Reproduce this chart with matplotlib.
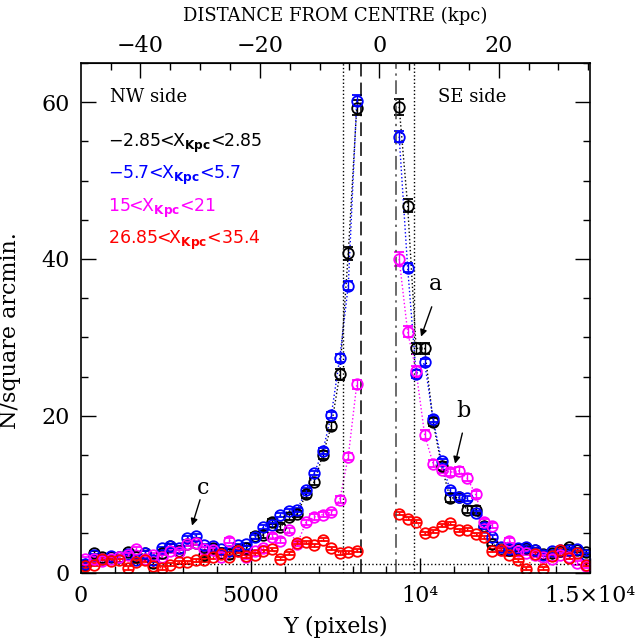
import numpy as np
import matplotlib
matplotlib.use('Agg')
import matplotlib.pyplot as plt
from matplotlib.ticker import MultipleLocator, FixedLocator, FuncFormatter

# bin centres along Y (pixels): NW side, then SE side of the central gap
y_nw = np.arange(125, 8126, 250)
y_se = np.arange(9375, 14876, 250)

# -2.85 < X < 2.85 kpc
black_nw = [1.0, 2.5, 2.0, 2.0, 2.0, 2.6, 2.0, 2.5, 1.2, 2.5, 3.4, 2.7, 3.7, 3.8, 2.3, 3.1, 2.5,
            2.4, 2.9, 3.1, 4.7, 4.8, 6.5, 5.8, 7.1, 7.5, 10.0, 11.6, 15.0, 18.7, 25.3, 40.7, 59.3]
black_nw_err = [0.25, 0.25, 0.25, 0.25, 0.25, 0.25, 0.25, 0.25, 0.25, 0.25, 0.25, 0.25, 0.25, 0.25,
                0.25, 0.25, 0.25, 0.25, 0.25, 0.25, 0.35, 0.35, 0.35, 0.35, 0.35, 0.35, 0.45, 0.45,
                0.55, 0.55, 0.7, 0.85, 1.0]
black_se = [59.4, 46.8, 28.6, 28.6, 19.2, 13.6, 9.5, 9.6, 8.0, 8.0, 5.9, 3.7, 3.0, 2.9, 3.0, 3.2,
            2.9, 2.4, 2.5, 2.7, 3.3, 2.9, 2.6]
black_se_err = [1.0, 0.85, 0.7, 0.7, 0.55, 0.45, 0.45, 0.45, 0.45, 0.45, 0.35, 0.25, 0.25, 0.25,
                0.25, 0.25, 0.25, 0.25, 0.25, 0.25, 0.25, 0.25, 0.25]

# -5.7 < X < 5.7 kpc
blue_nw = [1.1, 2.2, 1.8, 2.1, 2.0, 2.4, 1.6, 2.5, 1.6, 3.1, 3.4, 3.2, 4.4, 4.7, 3.5, 3.4, 3.0,
           2.8, 3.5, 3.6, 4.6, 5.8, 6.1, 7.3, 7.9, 8.0, 10.5, 12.7, 15.5, 20.1, 27.4, 36.6, 60.2]
blue_nw_err = [0.2, 0.2, 0.2, 0.2, 0.2, 0.2, 0.2, 0.2, 0.2, 0.2, 0.2, 0.2, 0.25, 0.25, 0.2, 0.2,
               0.2, 0.2, 0.2, 0.2, 0.25, 0.25, 0.25, 0.25, 0.25, 0.3, 0.3, 0.3, 0.4, 0.4, 0.5,
               0.6, 0.7]
blue_se = [55.6, 38.9, 25.3, 26.8, 19.6, 14.2, 10.5, 9.6, 9.5, 7.6, 5.8, 4.6, 3.3, 3.0, 3.1, 3.3,
           2.9, 2.3, 2.7, 2.9, 2.9, 3.0, 2.3]
blue_se_err = [0.7, 0.6, 0.5, 0.5, 0.4, 0.3, 0.3, 0.3, 0.3, 0.25, 0.25, 0.25, 0.2, 0.2, 0.2, 0.2,
               0.2, 0.2, 0.2, 0.2, 0.2, 0.2, 0.2]

# 15 < X < 21 kpc
pink_nw = [1.7, 1.7, 1.5, 1.7, 2.0, 2.2, 3.0, 1.7, 2.3, 2.0, 2.7, 2.6, 3.7, 3.8, 3.0, 2.9, 2.0,
           4.1, 2.8, 2.0, 2.7, 3.2, 4.6, 4.1, 5.4, 3.7, 6.4, 7.1, 7.4, 7.7, 9.3, 14.8, 24.0]
pink_nw_err = [0.25, 0.25, 0.25, 0.25, 0.25, 0.25, 0.25, 0.25, 0.25, 0.25, 0.25, 0.25, 0.25, 0.25,
               0.25, 0.25, 0.25, 0.35, 0.25, 0.25, 0.25, 0.25, 0.35, 0.35, 0.35, 0.25, 0.35, 0.35,
               0.35, 0.35, 0.45, 0.45, 0.55]
pink_se = [40.0, 30.7, 25.7, 17.6, 13.9, 13.1, 12.8, 13.0, 12.1, 10.0, 6.5, 6.0, 2.9, 4.1, 2.8,
           2.5, 2.2, 2.0, 1.8, 2.3, 2.0, 1.2, 0.8]
pink_se_err = [0.85, 0.7, 0.7, 0.55, 0.45, 0.45, 0.45, 0.45, 0.45, 0.45, 0.35, 0.35, 0.25, 0.35,
               0.25, 0.25, 0.25, 0.25, 0.25, 0.25, 0.25, 0.25, 0.25]

# 26.85 < X < 35.4 kpc
red_nw = [0.8, 1.0, 1.8, 1.5, 1.6, 0.6, 1.4, 1.6, 0.8, 0.6, 1.0, 1.3, 1.3, 1.6, 1.6, 2.0, 2.4,
          2.0, 2.7, 2.1, 2.3, 2.7, 3.0, 1.8, 2.4, 3.8, 3.9, 3.5, 4.2, 3.1, 2.5, 2.6, 2.8]
red_se = [7.5, 6.9, 6.5, 5.0, 5.2, 6.0, 6.3, 5.4, 5.5, 4.9, 4.5, 2.8, 2.9, 2.3, 1.6, 0.5, 2.4,
          0.5, 2.1, 2.9, 1.9, 2.5, 1.0]
red_err = 0.2

labels = ['\u22122.85<X$_{\\mathbf{Kpc}}$<2.85', '\u22125.7<X$_{\\mathbf{Kpc}}$<5.7',
          '15<X$_{\\mathbf{Kpc}}$<21', '26.85<X$_{\\mathbf{Kpc}}$<35.4']
colors = ['black', '#0000ff', '#ff00ff', '#ff0000']

kpc_ticks = [-40, -20, 0, 20]
centre = 8790.0      # pixel position of the galaxy centre
pix_per_kpc = 176.0
background = 1.15

serif = 'DejaVu Serif'

fig = plt.figure(figsize=(6.35, 6.42), dpi=100)
ax = fig.add_axes([0.1276, 0.108, 0.8016, 0.794])


def draw(x, v, e, col):
    ax.plot(x, v, ls=':', color=col, lw=1.0)
    ax.errorbar(x, v, yerr=e, fmt='o', ms=7.6, mfc='none', mec=col, mew=1.3,
                ecolor=col, elinewidth=1.0, capsize=3.3, capthick=1.0)


sets = [(black_nw, black_nw_err, black_se, black_se_err),
        (blue_nw, blue_nw_err, blue_se, blue_se_err),
        (pink_nw, pink_nw_err, pink_se, pink_se_err),
        (red_nw, red_err, red_se, red_err)]
for (vn, en, vs, es), col in zip(sets, colors):
    draw(y_nw, vn, en, col)
    draw(y_se, vs, es, col)

# strip limits
ax.axvline(7730, color='k', ls=':', lw=1.0)
ax.axvline(9800, color='k', ls=':', lw=1.0)
ax.axvline(8260, color='k', ls=(0, (9, 4)), lw=1.1)
ax.axvline(9270, color='#444444', ls=(0, (9, 3, 1.5, 3)), lw=1.1)
ax.axhline(background, color='k', ls=':', lw=1.0)

ax.set_xlim(0, 15000)
ax.set_ylim(0, 65)


def xfmt(v, pos):
    if v == 0:
        return '0'
    if v == 5000:
        return '5000'
    if v == 10000:
        return '10\u2074'
    if v == 15000:
        return '1.5\u00d710\u2074'
    return ''


ax.xaxis.set_major_locator(MultipleLocator(5000))
ax.xaxis.set_minor_locator(MultipleLocator(1000))
ax.xaxis.set_major_formatter(FuncFormatter(xfmt))
ax.yaxis.set_major_locator(MultipleLocator(20))
ax.yaxis.set_minor_locator(MultipleLocator(5))
ax.tick_params(which='both', direction='in', top=False, right=True, width=1.0)
ax.tick_params(which='major', length=11)
ax.tick_params(which='minor', length=5)
ax.tick_params(axis='x', pad=9)
ax.tick_params(axis='y', pad=8)
for lab in ax.get_xticklabels() + ax.get_yticklabels():
    lab.set_fontfamily(serif)
    lab.set_fontsize(16)
for s in ax.spines.values():
    s.set_linewidth(1.2)

top = ax.secondary_xaxis('top', functions=(lambda x: (x - centre) / pix_per_kpc,
                                           lambda k: k * pix_per_kpc + centre))
top.xaxis.set_major_locator(FixedLocator(kpc_ticks))
top.xaxis.set_minor_locator(MultipleLocator(5))
top.tick_params(which='both', direction='in', width=1.0, pad=4)
top.tick_params(which='major', length=11)
top.tick_params(which='minor', length=5)
for lab in top.get_xticklabels():
    lab.set_fontfamily(serif)
    lab.set_fontsize(16)
top.set_xlabel('DISTANCE FROM CENTRE (kpc)', fontfamily=serif, fontsize=13, labelpad=10)

ax.set_xlabel('Y (pixels)', fontfamily=serif, fontsize=16, labelpad=6)
ax.set_ylabel('N/square arcmin.', fontfamily=serif, fontsize=16, labelpad=8)
ax.yaxis.set_label_coords(-0.118, 0.475)

ax.text(850, 60.6, 'NW side', fontfamily=serif, fontsize=13, va='center')
ax.text(10520, 60.6, 'SE side', fontfamily=serif, fontsize=13, va='center')
for k, (lab, col) in enumerate(zip(labels, colors)):
    ax.text(790, 54.7 - 4.1 * k, lab, color=col, fontfamily='DejaVu Sans', fontsize=12.5,
            va='center')

arrow = dict(arrowstyle='-|>', color='k', lw=1.0, mutation_scale=10, shrinkA=0, shrinkB=0)
ax.annotate('', xy=(10020, 30.1), xytext=(10335, 33.9), arrowprops=arrow)
ax.text(10432, 35.4, 'a', fontfamily=serif, fontsize=16, ha='center', va='bottom')
ax.annotate('', xy=(11022, 13.9), xytext=(11237, 17.8), arrowprops=arrow)
ax.text(11266, 19.2, 'b', fontfamily=serif, fontsize=16, ha='center', va='bottom')
ax.annotate('', xy=(3271, 6.0), xytext=(3507, 9.3), arrowprops=arrow)
ax.text(3587, 10.75, 'c', fontfamily=serif, fontsize=16, ha='center', va='center')

fig.savefig('out.png', dpi=100)
